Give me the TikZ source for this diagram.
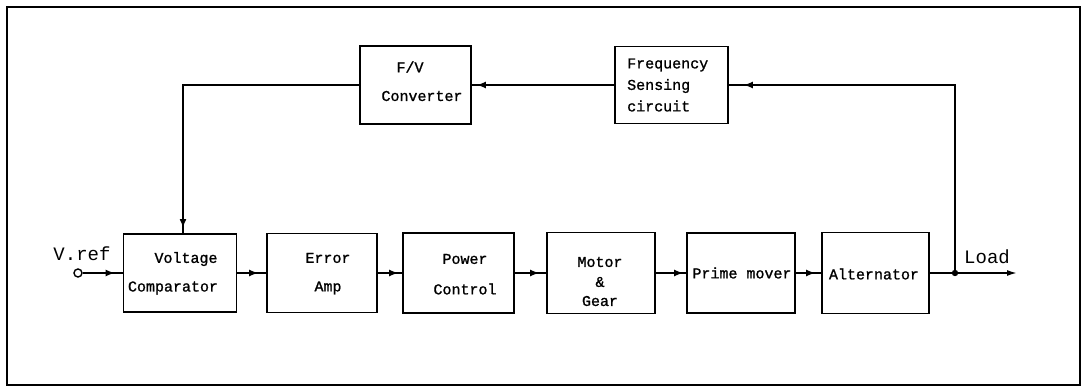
\documentclass[tikz,border=0pt]{standalone}
\usepackage{fontspec}
\setmonofont[AutoFakeBold=1.2]{Liberation Mono}
\usetikzlibrary{arrows.meta,decorations.markings}
\begin{document}
\begin{tikzpicture}[x=1pt,y=-1pt,
  box/.style={draw, line width=1.7pt, inner sep=0pt},
  lbl/.style={font=\ttfamily\bfseries\fontsize{15}{17}\selectfont, inner sep=0pt},
  big/.style={font=\ttfamily\fontsize{19}{21}\selectfont, inner sep=0pt},
  conn/.style={line width=1.6pt},
  tipmark/.style={postaction={decorate}, decoration={markings, mark=at position #1 with {\arrow{Latex[length=9pt,width=7pt]}}}}
]
\useasboundingbox (0,0) rectangle (1085,388);
\draw[line width=2.2pt] (7,7) rectangle (1080,385);

% boxes
\node[box, minimum width=113pt, minimum height=78pt] (vc) at (180,273) {};
\node[box, minimum width=110pt, minimum height=79pt] (ea) at (322,273) {};
\node[box, minimum width=111pt, minimum height=80pt] (pc) at (458.5,273) {};
\node[box, minimum width=108pt, minimum height=81pt] (mg) at (601,273) {};
\node[box, minimum width=108pt, minimum height=80pt] (pm) at (741,273) {};
\node[box, minimum width=107pt, minimum height=81pt] (al) at (875.5,273) {};
\node[box, minimum width=111pt, minimum height=78pt] (fv) at (415.5,85) {};
\node[box, minimum width=113pt, minimum height=77pt] (fs) at (671.5,85) {};

% texts
\node[lbl] (t1) at (186,259) {Voltage};
\node[lbl] (t2) at (173,288) {Comparator};
\node[lbl] (t3) at (328,258) {Error};
\node[lbl] (t4) at (328,288) {Amp};
\node[lbl] (t5) at (465,259) {Power};
\node[lbl] (t6) at (465,289) {Control};
\node[lbl] (t7) at (600,262) {Motor};
\node[lbl] (t8) at (600,282) {\&};
\node[lbl] (t9) at (600,301) {Gear};
\node[lbl] (t10) at (742,273) {Prime mover};
\node[lbl] (t11) at (874,274) {Alternator};
\node[lbl] (t12) at (410,67) {F/V};
\node[lbl] (t13) at (422,96) {Converter};
\node[lbl, anchor=west] (t14) at (627,65) {Frequency};
\node[lbl, anchor=west] (t15) at (627,86) {Sensing};
\node[lbl, anchor=west] (t16) at (627,106) {circuit};
\node[big] (vref) at (82,254) {V.ref};
\node[big] (loadt) at (987,257) {Load};

% input terminal, junction, load end
\node[circle, draw, line width=1.4pt, minimum size=8pt, inner sep=0pt] (vin) at (78,273) {};
\coordinate (j) at (955,273);
\coordinate (load) at (1017,273);
\coordinate (top) at (955,85);
\coordinate (left) at (183,85);
\coordinate (vcin) at (183,234);

% forward path
\draw[conn, tipmark=-8pt] (vin) -- (vc);
\draw[conn, tipmark=-8pt] (vc) -- (ea);
\draw[conn, tipmark=-4pt] (ea) -- (pc);
\draw[conn, tipmark=-7pt] (pc) -- (mg);
\draw[conn, tipmark=-3pt] (mg) -- (pm);
\draw[conn, tipmark=-6pt] (pm) -- (al);
\draw[conn, -{Latex[length=10pt,width=6pt]}] (al) -- (load);
\fill (j) circle (3.2pt);

% feedback path
\draw[conn, tipmark=-15pt] (j) -- (top) -- (fs);
\draw[conn, tipmark=-5pt] (fs) -- (fv);
\draw[conn, tipmark=-6pt] (fv) -- (left) -- (vcin);
\end{tikzpicture}
\end{document}
